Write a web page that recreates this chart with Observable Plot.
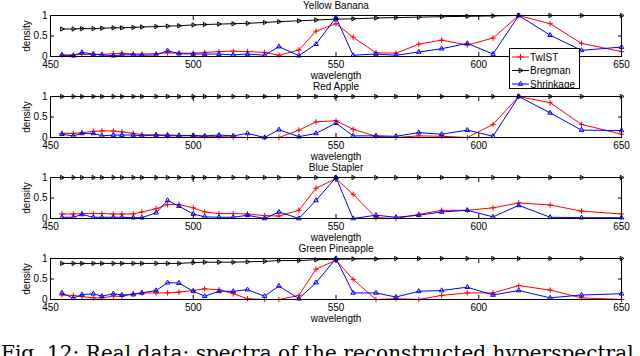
<!DOCTYPE html>
<html>
<head>
<meta charset="utf-8">
<script src="https://cdn.jsdelivr.net/npm/d3@7"></script>
<script src="https://cdn.jsdelivr.net/npm/@observablehq/plot@0.6"></script>
<style>
  body { margin: 0; background: #fff; }
  #wrap { position: relative; width: 640px; height: 356px; overflow: hidden; font-family: "Liberation Sans", Arial, sans-serif; }
  .panel { position: absolute; left: 0; }
  .panel svg { overflow: visible; }
  #legend { position: absolute; left: 509px; top: 48px; width: 69px; height: 39px; border: 1px solid #000; background: #fff; z-index: 5; }
  #caption { position: absolute; left: 1px; top: 343px; font-family: "DejaVu Serif", serif; font-size: 20px; letter-spacing: 0.05px; line-height: 1; white-space: nowrap; color: #000; z-index: 6; }
</style>
</head>
<body>
<div id="wrap"></div>
<script>
// ---- data ----
const wavelengths = [454, 458, 461, 465, 468, 472, 475, 479, 482, 487, 491, 495, 500, 504, 509, 514, 519, 525, 530, 537, 543, 550, 556, 564, 571, 579, 587, 596, 605, 614, 625, 636, 650];
const xTicks = [450, 500, 550, 600, 650];
const yTicks = [0, 0.5, 1];
const titles = ["Yellow Banana", "Red Apple", "Blue Stapler", "Green Pineapple"];
const seriesNames = ["TwIST", "Bregman", "Shrinkage"];
const seriesColors = ["#ff0000", "#000000", "#0000ff"];

const bananaTwist   = [0.03, 0.04, 0.05, 0.05, 0.05, 0.07, 0.08, 0.06, 0.06, 0.07, 0.09, 0.08, 0.08, 0.10, 0.12, 0.13, 0.12, 0.10, 0.03, 0.16, 0.62, 0.80, 0.47, 0.09, 0.08, 0.30, 0.40, 0.28, 0.45, 1.00, 0.80, 0.32, 0.12];
const bananaBregman = [0.67, 0.67, 0.68, 0.68, 0.69, 0.70, 0.70, 0.71, 0.72, 0.73, 0.74, 0.75, 0.77, 0.78, 0.79, 0.80, 0.81, 0.83, 0.85, 0.87, 0.89, 0.91, 0.92, 0.94, 0.95, 0.96, 0.97, 0.98, 0.99, 1.00, 1.00, 1.00, 1.00];
const bananaShrink  = [0.04, 0.02, 0.10, 0.06, 0.04, 0.02, 0.04, 0.04, 0.03, 0.04, 0.14, 0.07, 0.06, 0.06, 0.06, 0.04, 0.06, 0.03, 0.24, 0.02, 0.30, 0.95, 0.03, 0.06, 0.03, 0.11, 0.19, 0.32, 0.06, 1.00, 0.52, 0.15, 0.23];

const appleTwist   = [0.10, 0.10, 0.12, 0.15, 0.16, 0.16, 0.14, 0.10, 0.07, 0.06, 0.04, 0.04, 0.04, 0.02, 0.02, 0.01, 0.00, 0.00, 0.00, 0.18, 0.38, 0.41, 0.20, 0.03, 0.00, 0.04, 0.03, 0.00, 0.32, 1.00, 0.85, 0.32, 0.08];
const appleBregman = [1, 1, 1, 1, 1, 1, 1, 1, 1, 1, 1, 1, 1, 1, 1, 1, 1, 1, 1, 1, 1, 1, 1, 1, 1, 1, 1, 1, 1, 1, 1, 1, 1];
const appleShrink  = [0.08, 0.04, 0.10, 0.10, 0.04, 0.06, 0.06, 0.06, 0.04, 0.06, 0.06, 0.05, 0.05, 0.04, 0.06, 0.04, 0.10, 0.00, 0.19, 0.02, 0.10, 0.35, 0.04, 0.04, 0.03, 0.12, 0.08, 0.18, 0.03, 1.00, 0.60, 0.18, 0.17];

const staplerTwist   = [0.11, 0.11, 0.12, 0.12, 0.12, 0.11, 0.11, 0.11, 0.16, 0.24, 0.34, 0.34, 0.26, 0.16, 0.12, 0.12, 0.11, 0.07, 0.06, 0.20, 0.74, 0.97, 0.59, 0.02, 0.00, 0.10, 0.20, 0.20, 0.26, 0.38, 0.33, 0.18, 0.11];
const staplerBregman = [1, 1, 1, 1, 1, 1, 1, 1, 1, 1, 1, 1, 1, 1, 1, 1, 1, 1, 1, 1, 1, 1, 1, 1, 1, 1, 1, 1, 1, 1, 1, 1, 1];
const staplerShrink  = [0.03, 0.03, 0.10, 0.03, 0.03, 0.03, 0.03, 0.02, 0.02, 0.14, 0.44, 0.30, 0.11, 0.04, 0.03, 0.03, 0.08, 0.00, 0.16, 0.00, 0.44, 1.00, 0.00, 0.08, 0.03, 0.08, 0.16, 0.20, 0.04, 0.32, 0.03, 0.02, 0.02];

const pineTwist   = [0.11, 0.10, 0.07, 0.04, 0.04, 0.08, 0.08, 0.14, 0.16, 0.16, 0.16, 0.18, 0.22, 0.26, 0.24, 0.14, 0.02, 0.00, 0.00, 0.10, 0.74, 0.96, 0.49, 0.00, 0.02, 0.00, 0.10, 0.16, 0.16, 0.34, 0.23, 0.04, 0.00];
const pineBregman = [0.88, 0.88, 0.88, 0.88, 0.88, 0.88, 0.88, 0.88, 0.88, 0.88, 0.88, 0.88, 0.90, 0.91, 0.91, 0.91, 0.92, 0.93, 0.95, 0.95, 0.97, 0.98, 0.99, 0.99, 1.00, 1.00, 1.00, 1.00, 1.00, 1.00, 1.00, 1.00, 1.00];
const pineShrink  = [0.16, 0.03, 0.12, 0.14, 0.08, 0.14, 0.11, 0.12, 0.16, 0.22, 0.41, 0.40, 0.20, 0.08, 0.20, 0.20, 0.24, 0.08, 0.33, 0.02, 0.41, 1.00, 0.16, 0.16, 0.06, 0.20, 0.22, 0.30, 0.11, 0.22, 0.04, 0.11, 0.14];

const panels = [
  [bananaTwist, bananaBregman, bananaShrink],
  [appleTwist, appleBregman, appleShrink],
  [staplerTwist, staplerBregman, staplerShrink],
  [pineTwist, pineBregman, pineShrink]
];

// ---- drawing ----
const wrap = document.getElementById("wrap");
const panelTops = [0, 81, 162, 243];
const rowsOf = s => wavelengths.map((w, i) => ({w, v: s[i]}));
const markerOpts = [
  {symbol: "plus", r: 1.9, rotate: 0},
  {symbol: "triangle", r: 1.6, rotate: 90},
  {symbol: "triangle", r: 1.7, rotate: 0}
];
const fmtY = d => d === 0.5 ? "0.5" : String(d);

panels.forEach((series, p) => {
  const seriesMarks = [];
  series.forEach((s, k) => {
    const rows = rowsOf(s);
    seriesMarks.push(Plot.line(rows, {x: "w", y: "v", stroke: seriesColors[k], strokeWidth: 1}));
    seriesMarks.push(Plot.dot(rows, {x: "w", y: "v", symbol: markerOpts[k].symbol, r: markerOpts[k].r, rotate: markerOpts[k].rotate, stroke: seriesColors[k], fill: "none", strokeWidth: 1}));
  });
  const chart = Plot.plot({
    width: 640, height: 80,
    marginLeft: 50, marginRight: 19, marginTop: 15, marginBottom: 24,
    x: {domain: [450, 650]},
    y: {domain: [0, 1]},
    style: {fontFamily: "'Liberation Sans', Arial, sans-serif", fontSize: "10px", background: "transparent", overflow: "visible"},
    marks: [
      ...seriesMarks,
      Plot.frame({stroke: "#000"}),
      Plot.axisX({anchor: "bottom", ticks: xTicks, tickSize: -4, tickPadding: 8.5, label: "wavelength", labelAnchor: "center", labelOffset: 22, labelArrow: "none", fill: "#000", stroke: "#000"}),
      Plot.axisX({anchor: "top", ticks: xTicks, tickSize: -4, fill: "none", label: null, stroke: "#000"}),
      Plot.axisY({anchor: "left", ticks: yTicks, tickFormat: fmtY, tickSize: -4, tickPadding: 7, label: "density", labelAnchor: "center", labelOffset: 28, labelArrow: "none", fill: "#000", stroke: "#000"}),
      Plot.axisY({anchor: "right", ticks: yTicks, tickSize: -4, fill: "none", label: null, stroke: "#000"}),
      Plot.text([titles[p]], {text: d => d, frameAnchor: "top", lineAnchor: "middle", dy: -10, fill: "#000", fontSize: 10})
    ]
  });
  const div = document.createElement("div");
  div.className = "panel";
  div.style.top = panelTops[p] + "px";
  div.appendChild(chart);
  wrap.appendChild(div);
});

// legend
const legend = document.createElement("div");
legend.id = "legend";
const lsvg = d3.create("svg").attr("width", 69).attr("height", 39)
  .style("font-family", "'Liberation Sans', Arial, sans-serif").style("font-size", "10px");
const rowY = [8, 21.5, 35];
seriesNames.forEach((name, k) => {
  const g = lsvg.append("g").attr("transform", `translate(0,${rowY[k]})`);
  g.append("line").attr("x1", 2).attr("x2", 19).attr("y1", 0).attr("y2", 0).attr("stroke", seriesColors[k]).attr("stroke-width", 1);
  const sym = d3.symbol(k === 0 ? d3.symbolPlus : d3.symbolTriangle, k === 0 ? 14 : 9)();
  g.append("path").attr("d", sym).attr("transform", `translate(10.5,0) rotate(${k === 1 ? 90 : 0})`).attr("fill", "none").attr("stroke", seriesColors[k]);
  g.append("text").attr("x", 20).attr("y", 0).attr("dy", "0.35em").attr("fill", "#000").text(name);
});
legend.appendChild(lsvg.node());
wrap.appendChild(legend);

// caption
const cap = document.createElement("div");
cap.id = "caption";
cap.textContent = "Fig. 12: Real data: spectra of the reconstructed hyperspectral";
wrap.appendChild(cap);
</script>
</body>
</html>
